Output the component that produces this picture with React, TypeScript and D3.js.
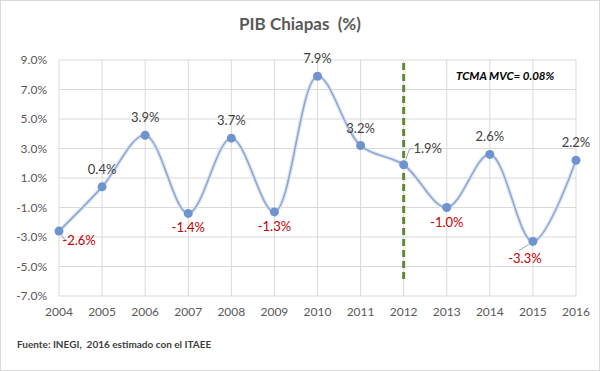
import React from 'react';
import * as d3 from 'd3';

const years = ['2004', '2005', '2006', '2007', '2008', '2009', '2010', '2011', '2012', '2013', '2014', '2015', '2016'];
const pib = [-2.6, 0.4, 3.9, -1.4, 3.7, -1.3, 7.9, 3.2, 1.9, -1.0, 2.6, -3.3, 2.2];
const yTicks = [9, 7, 5, 3, 1, -1, -3, -5, -7];
// label offsets (dx, dy) relative to the point, plus optional leader line
const labelPos = [
  { dx: 20, dy: 14, leader: true },
  { dx: 0, dy: -13 },
  { dx: 0, dy: -13 },
  { dx: 0, dy: 19 },
  { dx: 0, dy: -13 },
  { dx: 0, dy: 19 },
  { dx: 0, dy: -13 },
  { dx: 0, dy: -13 },
  { dx: 24, dy: -12, leader: true },
  { dx: 0, dy: 19 },
  { dx: 0, dy: -13 },
  { dx: -8, dy: 22, leader: true },
  { dx: 0, dy: -13 },
];

const W = 600;
const H = 371;
const font = 'Lato, "Open Sans", sans-serif';

export default function App() {
  const x = d3.scalePoint().domain(years).range([59, 576]);
  const y = d3.scaleLinear().domain([-7, 9]).range([296, 60]);

  const line = d3
    .line<number>()
    .x((_, i) => x(years[i])!)
    .y(d => y(d))
    .curve(d3.curveCatmullRom.alpha(0.5));

  const x2012 = x('2012')!;

  return (
    <div style={{ position: 'absolute', left: 0, top: 0 }}>
      <svg width={W} height={H} style={{ display: 'block' }} fontFamily={font}>
        <rect x={0.5} y={0.5} width={W - 1} height={H - 1} fill="#fff" stroke="#d9d9d9" />
        <text x={300} y={30} textAnchor="middle" fontSize={17} fontWeight="bold" fill="#595959">
          {'PIB Chiapas \u00a0(%)'}
        </text>

        {/* grid */}
        {yTicks.map(t => (
          <g key={t}>
            <line x1={59} x2={576} y1={y(t)} y2={y(t)} stroke="#d9d9d9" />
            <text x={47} y={y(t) + 4} textAnchor="end" fontSize={12} fill="#595959">
              {t.toFixed(1)}%
            </text>
          </g>
        ))}
        {years.map(yr => (
          <g key={yr}>
            <line x1={x(yr)} x2={x(yr)} y1={60} y2={296} stroke="#d9d9d9" />
            <text x={x(yr)} y={316} textAnchor="middle" fontSize={12} fill="#595959">
              {yr}
            </text>
          </g>
        ))}

        {/* 2012 marker */}
        <line x1={x2012} x2={x2012} y1={63} y2={283} stroke="#5f8a34" strokeWidth={3} strokeDasharray="7,4" />

        <path d={line(pib) || ''} fill="none" stroke="#dfe7f4" strokeWidth={4} />
        <path d={line(pib) || ''} fill="none" stroke="#8fa8d4" strokeWidth={1.6} />
        {pib.map((v, i) => (
          <circle key={i} cx={x(years[i])} cy={y(v)} r={4.5} fill="#6f93cf" />
        ))}

        {pib.map((v, i) => {
          const p = labelPos[i];
          const cx = x(years[i])!;
          const cy = y(v);
          const lx = cx + p.dx;
          const ly = cy + p.dy;
          let leader = null;
          if (p.leader) {
            if (i === 0) leader = <polyline points={`${cx + 2},${cy + 3} ${cx + 6},${cy + 9} ${cx + 8},${cy + 9}`} fill="none" stroke="#a6a6a6" />;
            if (i === 8) leader = <polyline points={`${cx + 2},${cy - 5} ${cx + 6},${cy - 16} ${cx + 10},${cy - 16}`} fill="none" stroke="#a6a6a6" />;
            if (i === 11) leader = <line x1={cx - 4} y1={cy + 3} x2={cx - 14} y2={cy + 9} stroke="#a6a6a6" />;
          }
          return (
            <g key={i}>
              {leader}
              <text x={lx} y={ly} textAnchor="middle" fontSize={13} fill={v < 0 ? '#c00000' : '#404040'}>
                {v.toFixed(1)}%
              </text>
            </g>
          );
        })}

        <text x={456} y={80} fontSize={11.5} fontWeight="bold" fontStyle="italic" fill="#000">
          TCMA MVC= 0.08%
        </text>

        <text x={17} y={348} fontSize={10} fontWeight="bold" fill="#404040">
          {'Fuente: INEGI, \u00a02016 estimado con el ITAEE'}
        </text>
      </svg>
    </div>
  );
}
